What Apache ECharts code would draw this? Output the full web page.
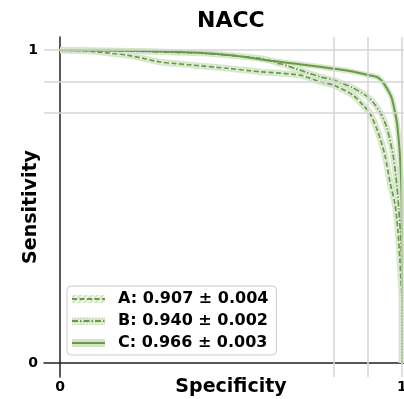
<!DOCTYPE html>
<html><head><meta charset="utf-8">
<script src="https://cdn.jsdelivr.net/npm/echarts@6/dist/echarts.min.js"></script>
<style>html,body{margin:0;padding:0;background:#fff}#c{width:404px;height:399px}</style>
</head><body><div id="c"></div>
<script>
const titleText = 'NACC';
const xName = 'Specificity';
const yName = 'Sensitivity';
const tickValues = [0, 1];
const gridX = [0.8, 0.9, 1];
const gridY = [0.8, 0.9, 1];
const seriesNames = ['A: 0.907 \u00b1 0.004', 'B: 0.940 \u00b1 0.002', 'C: 0.966 \u00b1 0.003'];

const specA = [0, 0.05, 0.088, 0.146, 0.196, 0.25, 0.292, 0.389, 0.488, 0.585, 0.702, 0.76, 0.801, 0.857, 0.886, 0.906, 0.93, 0.95, 0.965, 0.98, 0.988, 0.994, 0.997, 1.0, 1.0];
const sensA = [1, 0.999, 0.997, 0.99, 0.984, 0.972, 0.962, 0.952, 0.942, 0.931, 0.92, 0.899, 0.888, 0.856, 0.824, 0.799, 0.738, 0.665, 0.578, 0.505, 0.425, 0.329, 0.265, 0.2, 0];

const specB = [0, 0.1, 0.2, 0.3, 0.409, 0.5, 0.585, 0.62, 0.635, 0.65, 0.702, 0.76, 0.801, 0.857, 0.904, 0.936, 0.956, 0.974, 0.985, 0.991, 0.997, 1.0, 1.0];
const sensB = [1, 0.999, 0.997, 0.994, 0.990, 0.983, 0.974, 0.966, 0.958, 0.955, 0.936, 0.915, 0.904, 0.879, 0.847, 0.802, 0.751, 0.665, 0.569, 0.489, 0.383, 0.26, 0];

const specC = [0, 0.1, 0.2, 0.3, 0.41, 0.5, 0.556, 0.623, 0.7, 0.76, 0.848, 0.904, 0.927, 0.939, 0.95, 0.96, 0.97, 0.978, 0.985, 0.99, 0.994, 0.997, 0.999, 1.0, 1.0];
const sensC = [1, 0.999, 0.998, 0.996, 0.992, 0.984, 0.976, 0.965, 0.955, 0.947, 0.933, 0.92, 0.914, 0.904, 0.888, 0.87, 0.847, 0.81, 0.771, 0.72, 0.665, 0.6, 0.52, 0.3, 0];

const LINE = '#689a48';
const BAND = '#d3e4c6';
const FONT = 'DejaVu Sans';

function pairs(xs, ys) { return xs.map((x, i) => [x, ys[i]]); }

function handle(kind) {
  let pat = '', dash = '';
  if (kind === 0) {
    pat = "<pattern id='p' width='4' height='4' patternUnits='userSpaceOnUse' patternTransform='rotate(45)'><rect width='1.6' height='4' fill='#ffffff' fill-opacity='0.85'/></pattern>";
    dash = "stroke-dasharray='5,2.5'";
  } else if (kind === 1) {
    pat = "<pattern id='p' width='3' height='3' patternUnits='userSpaceOnUse'><circle cx='1.5' cy='1.5' r='0.8' fill='#ffffff'/></pattern>";
    dash = "stroke-dasharray='6,2,1.5,2'";
  }
  const svg = "<svg xmlns='http://www.w3.org/2000/svg' width='41' height='10' viewBox='0 0 41 10'><defs>" + pat + "</defs>" +
    "<rect x='0' y='1' width='33' height='8' fill='" + BAND + "'/>" +
    (pat ? "<rect x='0' y='1' width='33' height='8' fill='url(#p)'/>" : '') +
    "<line x1='0' y1='5' x2='33' y2='5' stroke='" + LINE + "' stroke-width='2' " + dash + "/></svg>";
  return 'image://data:image/svg+xml;charset=utf-8,' + encodeURIComponent(svg);
}

const curves = [pairs(specA, sensA), pairs(specB, sensB), pairs(specC, sensC)];
const dashTypes = [[5, 2.5], [6, 2, 1.5, 2], 'solid'];
const bandWidths = [6.5, 6, 5.5];
const SMOOTH = 0.25;

const series = [{
  type: 'line', data: [], silent: true, z: 1,
  markLine: {
    silent: true, symbol: ['none', 'none'], animation: false,
    label: { show: false },
    lineStyle: { color: '#d6d6d6', width: 1.5, type: 'solid' },
    data: gridX.map(v => ({ xAxis: v })).concat(gridY.map(v => ({ yAxis: v })))
  }
}];
curves.forEach((d, i) => {
  series.push({ type: 'line', data: d, symbol: 'none', silent: true, z: 2, smooth: SMOOTH,
    lineStyle: { color: BAND, width: bandWidths[i], opacity: 0.9 } });
  if (i < 2) series.push({ type: 'line', data: d, symbol: 'none', silent: true, z: 3, smooth: SMOOTH,
    lineStyle: { color: '#ffffff', width: 3, type: [1.2, 1.8], opacity: 0.8 } });
});
curves.forEach((d, i) => {
  series.push({ name: seriesNames[i], type: 'line', data: d, symbol: 'none', z: 4, smooth: SMOOTH,
    lineStyle: { color: LINE, width: i === 2 ? 2 : 1.7, type: dashTypes[i] }, itemStyle: { color: LINE } });
});

const chart = echarts.init(document.getElementById('c'), null, { renderer: 'canvas' });
chart.setOption({
  animation: false,
  backgroundColor: '#ffffff',
  title: { text: titleText, left: 197, top: 10, padding: 0,
    textStyle: { fontFamily: FONT, fontWeight: 'bold', fontSize: 22, color: '#000' } },
  grid: { left: 44, right: 0, top: 37, bottom: 22, containLabel: false, outerBoundsMode: 'none' },
  xAxis: {
    type: 'value', min: -0.047, max: 1.006,
    name: xName, nameLocation: 'middle', nameGap: 1, nameMoveOverlap: false,
    nameTextStyle: { fontFamily: FONT, fontWeight: 'bold', fontSize: 19, color: '#000', padding: [0, 0, 0, 14], verticalAlign: 'top' },
    axisLine: { onZero: true, lineStyle: { color: '#222', width: 1.5 } },
    axisTick: { show: false },
    splitLine: { show: false },
    axisLabel: { customValues: tickValues, margin: 3, formatter: v => String(v),
      fontFamily: FONT, fontWeight: 'bold', fontSize: 14, color: '#000' }
  },
  yAxis: {
    type: 'value', min: -0.045, max: 1.042,
    name: yName, nameLocation: 'middle', nameGap: 3, nameMoveOverlap: false,
    nameTextStyle: { fontFamily: FONT, fontWeight: 'bold', fontSize: 19, color: '#000' },
    axisLine: { onZero: true, lineStyle: { color: '#222', width: 1.5 } },
    axisTick: { show: false },
    splitLine: { show: false },
    axisLabel: { customValues: tickValues, margin: 6, formatter: v => String(v),
      fontFamily: FONT, fontWeight: 'bold', fontSize: 14, color: '#000' }
  },
  legend: {
    orient: 'vertical', left: 67, top: 286, padding: [5, 8, 4, 5], itemGap: 6,
    itemWidth: 41, itemHeight: 10, selectedMode: false,
    backgroundColor: 'rgba(255,255,255,0.8)', borderColor: '#cccccc', borderWidth: 1, borderRadius: 4,
    textStyle: { fontFamily: FONT, fontWeight: 'bold', fontSize: 16, lineHeight: 16, color: '#000' },
    data: seriesNames.map((n, i) => ({ name: n, icon: handle(i) }))
  },
  series: series
});
</script></body></html>
